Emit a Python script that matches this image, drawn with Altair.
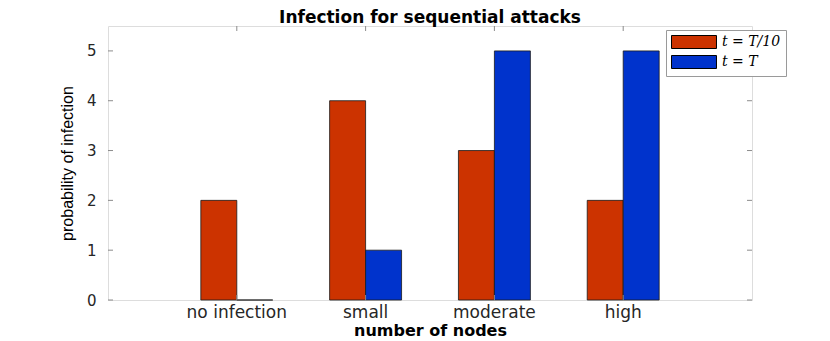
import altair as alt
import pandas as pd

categories = ["no infection", "small", "moderate", "high"]
series = ["t = T/10", "t = T"]
vals_early = [2, 4, 3, 2]
vals_late = [0, 1, 5, 5]
y_ticks = [0, 1, 2, 3, 4, 5]
colors = ["#CC3300", "#0033CC"]

W, H = 644, 274

rows = []
for c, a, b in zip(categories, vals_early, vals_late):
    rows.append({"category": c, "series": series[0], "value": a})
    rows.append({"category": c, "series": series[1], "value": b})
df = pd.DataFrame(rows)
df_y = pd.DataFrame({"value": y_ticks})
df_x = pd.DataFrame({"category": categories})

xscale = alt.Scale(paddingInner=0, paddingOuter=0.5)
yscale = alt.Scale(domain=[0, 5.5], nice=False)
tick_col = "#8c8c8c"

xaxis = alt.Axis(title="number of nodes", labelAngle=0, ticks=False, domain=False, grid=False,
                 labelPadding=4, labelFont="DejaVu Sans", labelFontSize=17,
                 labelColor="#262626", titleFont="DejaVu Sans", titleFontSize=16,
                 titleFontWeight="bold", titleColor="#000000", titlePadding=2)
yaxis = alt.Axis(values=y_ticks, title="probability of infection", ticks=False, domain=False,
                 grid=False, labelPadding=12, labelFont="DejaVu Sans", labelFontSize=15,
                 labelColor="#262626", titleFont="Liberation Sans", titleFontSize=16,
                 titleFontWeight="normal", titleColor="#000000", titlePadding=11)

bars = alt.Chart(df).mark_bar(stroke="#1a1a1a", strokeWidth=0.8).encode(
    x=alt.X("category:N", sort=categories, scale=xscale, axis=xaxis),
    xOffset=alt.XOffset("series:N", sort=series, scale=alt.Scale(paddingInner=0, paddingOuter=0.79)),
    y=alt.Y("value:Q", scale=yscale, axis=yaxis),
    color=alt.Color("series:N", sort=series, scale=alt.Scale(domain=series, range=colors),
                    legend=alt.Legend(orient="none", legendX=558, legendY=4, title=None,
                                      symbolType="M-3.46,-1L3.46,-1L3.46,1L-3.46,1Z",
                                      symbolSize=169, symbolOffset=16, labelOffset=21,
                                      symbolStrokeColor="#000000", symbolStrokeWidth=1,
                                      labelFont="DejaVu Serif", labelFontStyle="italic",
                                      labelFontSize=14, labelColor="#000000",
                                      fillColor="#ffffff", strokeColor="#9a9a9a",
                                      padding=5, rowPadding=2)),
)

ytick_l = alt.Chart(df_y).mark_rule(color=tick_col, strokeWidth=1).encode(
    y=alt.Y("value:Q", scale=yscale, axis=yaxis), x=alt.value(0), x2=alt.value(5))
ytick_r = alt.Chart(df_y).mark_rule(color=tick_col, strokeWidth=1).encode(
    y=alt.Y("value:Q", scale=yscale, axis=yaxis), x=alt.value(W - 5), x2=alt.value(W))
xtick_t = alt.Chart(df_x).mark_rule(color=tick_col, strokeWidth=1).encode(
    x=alt.X("category:N", sort=categories, scale=xscale, axis=xaxis), y=alt.value(0), y2=alt.value(5))
xtick_b = alt.Chart(df_x).mark_rule(color=tick_col, strokeWidth=1).encode(
    x=alt.X("category:N", sort=categories, scale=xscale, axis=xaxis), y=alt.value(H - 5), y2=alt.value(H))

chart = alt.layer(bars, ytick_l, ytick_r, xtick_t, xtick_b).properties(
    width=W, height=H,
    title=alt.Title("Infection for sequential attacks", font="DejaVu Sans", fontSize=17,
                    fontWeight="bold", color="#000000", anchor="middle", offset=0, dy=1),
    autosize=alt.AutoSizeParams(type="none"),
    padding={"left": 100, "top": 18, "right": 60, "bottom": 40},
).configure_view(stroke=tick_col, strokeWidth=1).configure(background="#ffffff")

chart.save("out.html", embed_options={"renderer": "svg", "actions": False})
